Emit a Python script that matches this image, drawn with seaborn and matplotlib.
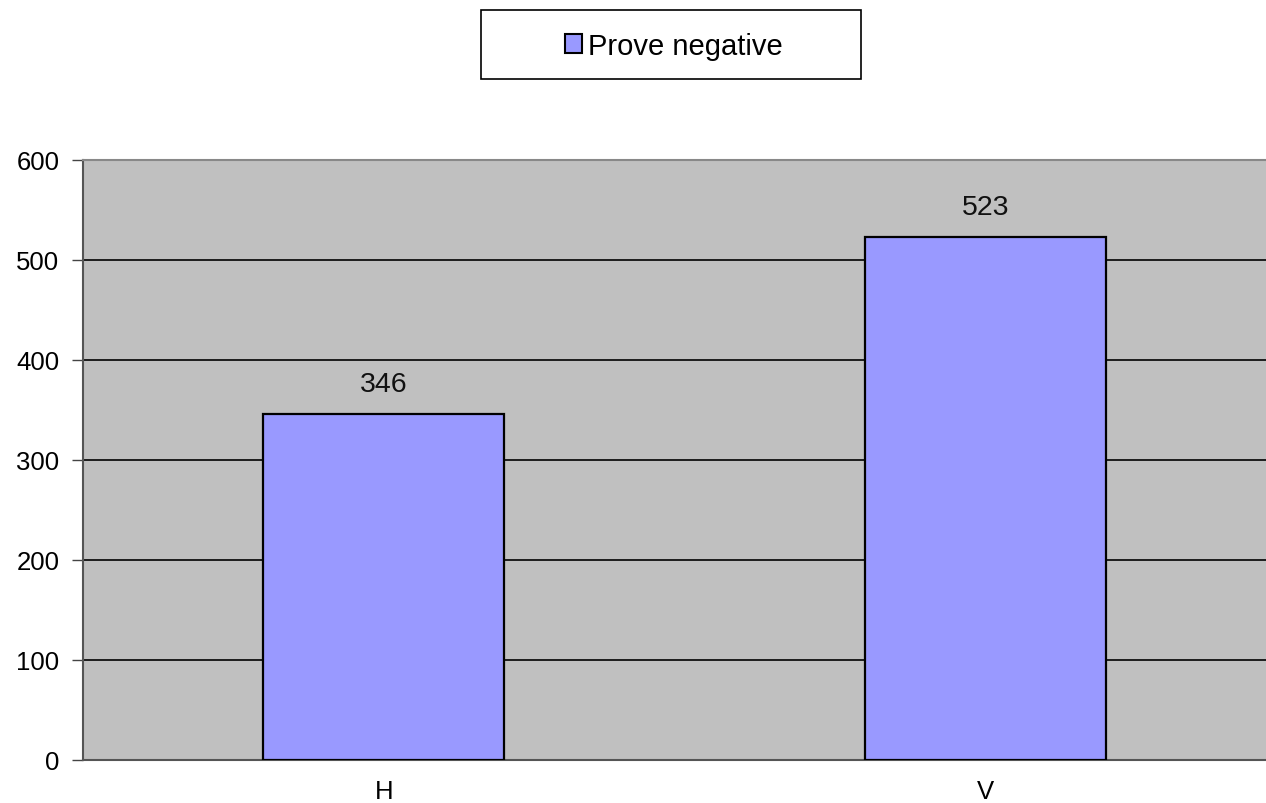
import matplotlib
matplotlib.use("Agg")
import matplotlib.pyplot as plt
import seaborn as sns
import pandas as pd
from matplotlib.patches import Rectangle

categories = ["H", "V"]
values = [346, 523]
series_name = "Prove negative"
yticks = [0, 100, 200, 300, 400, 500, 600]

sns.set_style("white")
plt.rcParams['font.family'] = ['Liberation Sans', 'DejaVu Sans']
plt.rcParams['text.color'] = 'black'
plt.rcParams['xtick.color'] = 'black'
plt.rcParams['ytick.color'] = 'black'

df = pd.DataFrame({"cat": categories, "val": values, "series": [series_name] * len(categories)})

W, H = 1266, 804
fig = plt.figure(figsize=(W / 100, H / 100), dpi=100)
ax = fig.add_axes([83 / W, (H - 761) / H, 1203 / W, 600 / H])
ax.set_facecolor("#C0C0C0")

sns.barplot(data=df, x="cat", y="val", hue="series", palette=["#9999FF"],
            saturation=1, width=0.4, dodge=False, edgecolor="black", linewidth=1.6,
            ax=ax, legend=False, zorder=3)

ax.set_xlim(-0.5, 1.5)
ax.set_ylim(0, 600)
ax.set_yticks(yticks)
ax.set_yticklabels([str(t) for t in yticks], fontsize=18.5)
ax.yaxis.grid(True, color="black", linewidth=1.2, zorder=1)
ax.set_axisbelow(True)
ax.set_xlabel("")
ax.set_ylabel("")

# category labels centered, ticks at boundaries
ax.set_xticks([-0.5, 0.5, 1.5])
ax.set_xticklabels([])
ax.set_xticks([0, 1], minor=True)
ax.set_xticklabels(categories, minor=True, fontsize=18.5)
ax.tick_params(axis="x", which="major", direction="out", length=9, width=1, color="#444444")
ax.tick_params(axis="x", which="minor", length=0, pad=14)
ax.tick_params(axis="y", direction="out", length=8, width=1, color="#444444", left=True, pad=9)

for side in ["left", "bottom"]:
    ax.spines[side].set_visible(True)
    ax.spines[side].set_color("#555555")
    ax.spines[side].set_linewidth(1.5)
ax.spines["top"].set_color("#888888")
ax.spines["top"].set_linewidth(1.5)
ax.spines["right"].set_visible(False)

for c in ax.containers:
    ax.bar_label(c, labels=[str(v) for v in values], padding=12, fontsize=20.5, color="#111111")

# legend
fig.patches.append(Rectangle((481 / W, 1 - 80 / H), 380 / W, 69 / H,
                             transform=fig.transFigure, facecolor="white",
                             edgecolor="black", linewidth=1.2, zorder=0))
handle = Rectangle((0, 0), 1, 1, facecolor="#9999FF", edgecolor="black", linewidth=1.5)
fig.legend([handle], [series_name], loc="center", bbox_to_anchor=(674 / W, 1 - 47 / H),
           frameon=False, fontsize=21, handlelength=0.6, handleheight=0.6,
           handletextpad=0.2)

fig.savefig("out.png", dpi=100)
